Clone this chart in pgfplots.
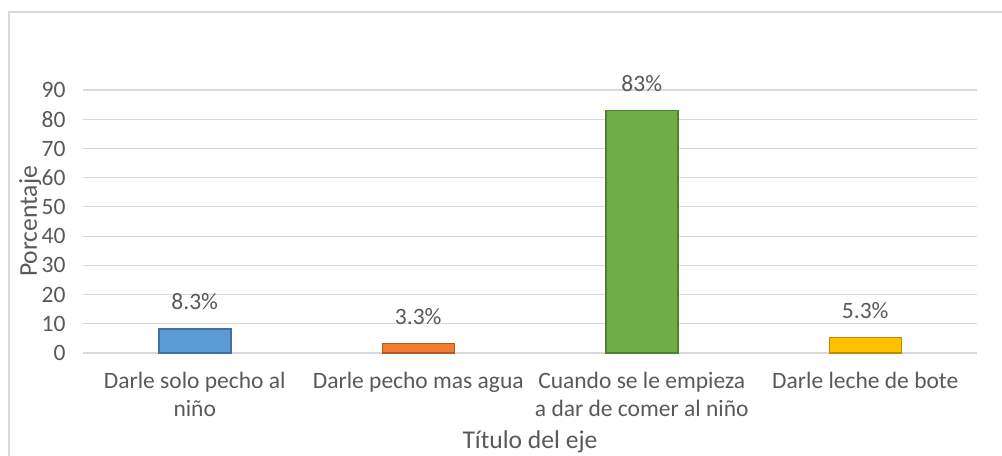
\documentclass[border=0pt]{standalone}
\usepackage{pgfplots}
\pgfplotsset{compat=1.18}
\usepackage{fontspec}
\setmainfont{Carlito}

\definecolor{tickgray}{HTML}{595959}
\definecolor{gridgray}{HTML}{D9D9D9}
\definecolor{cblue}{HTML}{5B9BD5}
\definecolor{cblueb}{HTML}{41719C}
\definecolor{corange}{HTML}{ED7D31}
\definecolor{coranb}{HTML}{AE5A21}
\definecolor{cgreen}{HTML}{70AD47}
\definecolor{cgreenb}{HTML}{507E32}
\definecolor{cyellow}{HTML}{FFC000}
\definecolor{cyellowb}{HTML}{BC8C00}

\begin{document}
\begin{tikzpicture}
% page = 1002 x 456 px, y runs downwards
\useasboundingbox (0,0) rectangle (1002bp,-456bp);
\draw[gridgray, line width=1.2bp] (9bp,-470bp) -- (9bp,-12bp) -- (1010bp,-12bp);

\begin{axis}[
  at={(83bp,-353bp)}, anchor=south west,
  scale only axis,
  width=894bp, height=263bp,
  ymin=0, ymax=90,
  xmin=-0.5, xmax=3.5,
  ytick={0,10,...,90},
  xtick={0,1,2,3},
  xticklabels={Darle solo pecho al\\niño, Darle pecho mas agua, Cuando se le empieza\\a dar de comer al niño, Darle leche de bote},
  ybar, bar width=72bp, bar shift=0pt,
  axis line style={draw=none},
  axis x line*=bottom,
  x axis line style={gridgray, line width=1.2bp},
  ymajorgrids=true,
  grid style={gridgray, line width=1.2bp},
  major tick length=0pt,
  tick style={draw=none},
  /pgf/number format/assume math mode=true,
  ticklabel style={font=\fontsize{23.5bp}{28bp}\selectfont, text=tickgray},
  yticklabel style={xshift=-14bp},
  xticklabel style={align=center, yshift=-16bp},
  xlabel={Título del eje},
  xlabel style={at={(axis description cs:0.5,-0.3612)}, anchor=base,
                font=\fontsize{25.6bp}{30bp}\selectfont, text=tickgray},
  ylabel={Porcentaje},
  ylabel style={at={(axis description cs:-0.0515,0.5)}, anchor=base,
                font=\fontsize{25.6bp}{30bp}\selectfont, text=tickgray},
  point meta=explicit symbolic,
  nodes near coords,
  every node near coord/.append style={anchor=base, yshift=19bp,
      font=\fontsize{23.5bp}{28bp}\selectfont, text=tickgray},
]
\addplot[fill=cblue, draw=cblueb, line width=1.5bp] coordinates {(0,8.3) [8.3\%]};
\addplot[fill=corange, draw=coranb, line width=1.5bp] coordinates {(1,3.3) [3.3\%]};
\addplot[fill=cgreen, draw=cgreenb, line width=1.5bp] coordinates {(2,83) [83\%]};
\addplot[fill=cyellow, draw=cyellowb, line width=1.5bp] coordinates {(3,5.3) [5.3\%]};
\end{axis}
\end{tikzpicture}
\end{document}
